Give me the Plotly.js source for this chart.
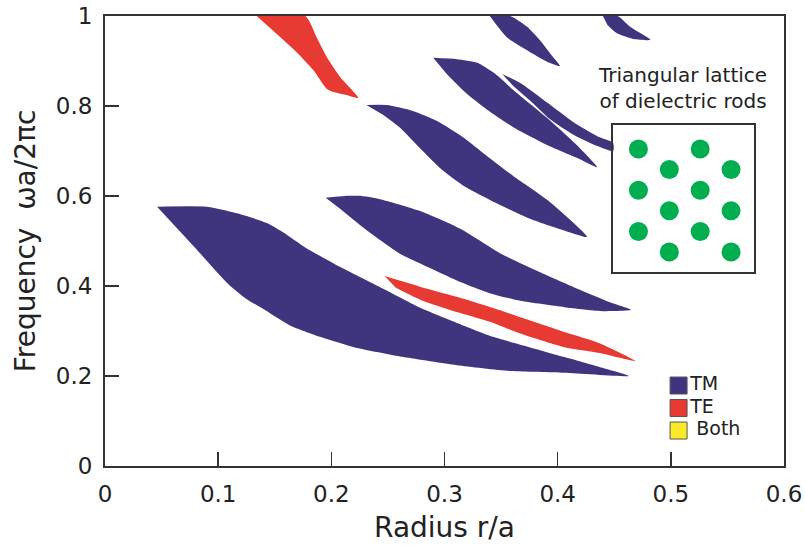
<!DOCTYPE html>
<html>
<head>
<meta charset="utf-8">
<script src="https://cdn.plot.ly/plotly-3.0.1.min.js"></script>
<style>html,body{margin:0;padding:0;background:#fff;}#chart{width:805px;height:545px;}</style>
</head>
<body>
<div id="chart"></div>
<script>
// ---- Gap regions (radius r/a, frequency ωa/2πc) ----
// TM gaps
var tm1X = [0.046,0.090,0.119,0.143,0.157,0.178,0.208,0.248,0.279,0.311,0.343,0.375,0.406,0.437,0.463,0.406,0.359,0.311,0.264,0.220,0.190,0.163,0.141,0.124,0.109,0.080];
var tm1Y = [0.576,0.576,0.560,0.540,0.520,0.484,0.442,0.391,0.351,0.318,0.287,0.264,0.242,0.220,0.200,0.207,0.211,0.224,0.242,0.264,0.287,0.313,0.347,0.373,0.404,0.484];

var tm2X = [0.195,0.212,0.227,0.243,0.278,0.314,0.349,0.384,0.420,0.446,0.465,0.441,0.406,0.367,0.340,0.314,0.287,0.261,0.243,0.225,0.208];
var tm2Y = [0.596,0.600,0.600,0.593,0.567,0.527,0.473,0.431,0.391,0.364,0.347,0.344,0.353,0.367,0.384,0.409,0.440,0.471,0.502,0.536,0.571];

var tm3X = [0.231,0.249,0.272,0.293,0.316,0.340,0.361,0.391,0.426,0.405,0.376,0.346,0.316,0.296,0.278,0.261,0.246];
var tm3Y = [0.802,0.802,0.789,0.767,0.731,0.684,0.644,0.591,0.509,0.524,0.549,0.584,0.624,0.662,0.707,0.751,0.780];

var tm4X = [0.290,0.311,0.329,0.345,0.362,0.391,0.415,0.435,0.418,0.391,0.362,0.338,0.318,0.302];
var tm4Y = [0.907,0.904,0.896,0.871,0.833,0.773,0.718,0.664,0.684,0.713,0.751,0.791,0.831,0.871];

var tm5X = [0.351,0.367,0.391,0.414,0.435,0.449,0.449,0.435,0.414,0.393,0.376,0.361];
var tm5Y = [0.871,0.851,0.807,0.764,0.733,0.718,0.700,0.711,0.736,0.771,0.811,0.844];

var tm6X = [0.340,0.358,0.373,0.384,0.393,0.402,0.391,0.373,0.355,0.346];
var tm6Y = [1.000,1.000,0.976,0.947,0.918,0.889,0.898,0.924,0.953,0.980];

var tm7X = [0.440,0.453,0.464,0.482,0.467,0.452,0.444];
var tm7Y = [1.000,1.000,0.976,0.947,0.949,0.962,0.980];

// TE gaps
var te1X = [0.247,0.279,0.311,0.343,0.375,0.406,0.437,0.469,0.437,0.406,0.365,0.343,0.311,0.279,0.257];
var te1Y = [0.422,0.398,0.376,0.351,0.324,0.298,0.273,0.233,0.251,0.264,0.296,0.318,0.342,0.369,0.396];

var te2X = [0.134,0.177,0.187,0.196,0.208,0.224,0.214,0.197,0.184,0.170,0.155];
var te2Y = [1.000,1.000,0.953,0.909,0.864,0.818,0.824,0.836,0.880,0.918,0.953];

// Legend
var legendNames  = ['TM','TE',' Both'];
var legendColors = ['#3f347e','#e63a33','#fbe92a'];
var legendRows   = [0, 1, 2];

// Inset: triangular lattice of rods (column index, half-row index)
var latticeX = [0,2,0,2,0,2,1,3,1,3,1,3];
var latticeY = [0,0,2,2,4,4,1,1,3,3,5,5];

var TM = legendColors[0], TE = legendColors[1];
var FONT = 'DejaVu Sans';
var TXT = '#222';

function gap(x, y, color) {
  return {x: x, y: y, type: 'scatter', mode: 'lines', fill: 'toself',
          fillcolor: color, line: {width: 0, color: color, shape: 'spline', smoothing: 0.6},
          showlegend: false, hoverinfo: 'skip', xaxis: 'x', yaxis: 'y'};
}

var traces = [
  gap(tm1X, tm1Y, TM), gap(tm2X, tm2Y, TM), gap(tm3X, tm3Y, TM),
  gap(tm4X, tm4Y, TM), gap(tm5X, tm5Y, TM), gap(tm6X, tm6Y, TM),
  gap(tm7X, tm7Y, TM), gap(te1X, te1Y, TE), gap(te2X, te2Y, TE)
];

// key (drawn on its own small axes)
traces.push({x: legendRows.map(function () { return 0; }), y: legendRows,
  type: 'scatter', mode: 'markers+text', text: legendNames, textposition: 'middle right',
  textfont: {size: 19, family: FONT, color: TXT},
  marker: {symbol: 'square', size: 17, color: legendColors, line: {color: '#555', width: 1}},
  showlegend: false, hoverinfo: 'skip', xaxis: 'x3', yaxis: 'y3', cliponaxis: false});

traces.push({x: latticeX, y: latticeY, type: 'scatter', mode: 'markers',
  marker: {size: 19, color: '#00ad4f'}, showlegend: false, hoverinfo: 'skip',
  xaxis: 'x2', yaxis: 'y2'});

var hidden = {showline: false, showticklabels: false, ticks: '', showgrid: false, zeroline: false};

var layout = {
  width: 805, height: 545,
  margin: {l: 105, r: 21, t: 16, b: 79},
  paper_bgcolor: '#fff', plot_bgcolor: 'rgba(0,0,0,0)',
  font: {family: FONT, color: TXT},
  showlegend: false,
  xaxis: {
    range: [0, 0.6], dtick: 0.1, tick0: 0, ticks: 'inside', ticklen: 14, tickwidth: 1.5,
    tickcolor: '#333', showline: true, linecolor: '#333', linewidth: 2, mirror: true,
    showgrid: false, zeroline: false, tickfont: {size: 23, family: FONT, color: TXT},
    ticklabelstandoff: 6,
    title: {text: 'Radius r/a', font: {size: 28, family: FONT, color: TXT}, standoff: 12}
  },
  yaxis: {
    range: [0, 1], dtick: 0.2, tick0: 0, ticks: 'inside', ticklen: 14, tickwidth: 1.5,
    tickcolor: '#333', showline: true, linecolor: '#333', linewidth: 2, mirror: true,
    showgrid: false, zeroline: false, tickfont: {size: 23, family: FONT, color: TXT},
    ticklabelstandoff: 6,
    title: {text: 'Frequency  ωa/2πc', font: {size: 28, family: FONT, color: TXT}, standoff: 12}
  },
  xaxis2: {domain: [0.748, 0.956], anchor: 'y2', range: [-0.828, 3.747],
    showline: true, mirror: true, linecolor: '#333', linewidth: 2,
    showticklabels: false, ticks: '', showgrid: false, zeroline: false},
  yaxis2: {domain: [0.431, 0.758], anchor: 'x2', range: [5.97, -1.165],
    showline: true, mirror: true, linecolor: '#333', linewidth: 2,
    showticklabels: false, ticks: '', showgrid: false, zeroline: false},
  xaxis3: Object.assign({domain: [0.8175, 0.9647], anchor: 'y3', range: [-18.5, 81.5]}, hidden),
  yaxis3: Object.assign({domain: [0.0533, 0.2044], anchor: 'x3', range: [2.511, -0.511]}, hidden),
  annotations: [{
    xref: 'paper', yref: 'paper', x: 0.851, y: 0.84, xanchor: 'center', yanchor: 'middle',
    text: 'Triangular lattice<br>of dielectric rods', showarrow: false,
    font: {size: 20, family: FONT, color: TXT}
  }]
};

Plotly.newPlot('chart', traces, layout, {staticPlot: true, displayModeBar: false});
</script>
</body>
</html>
